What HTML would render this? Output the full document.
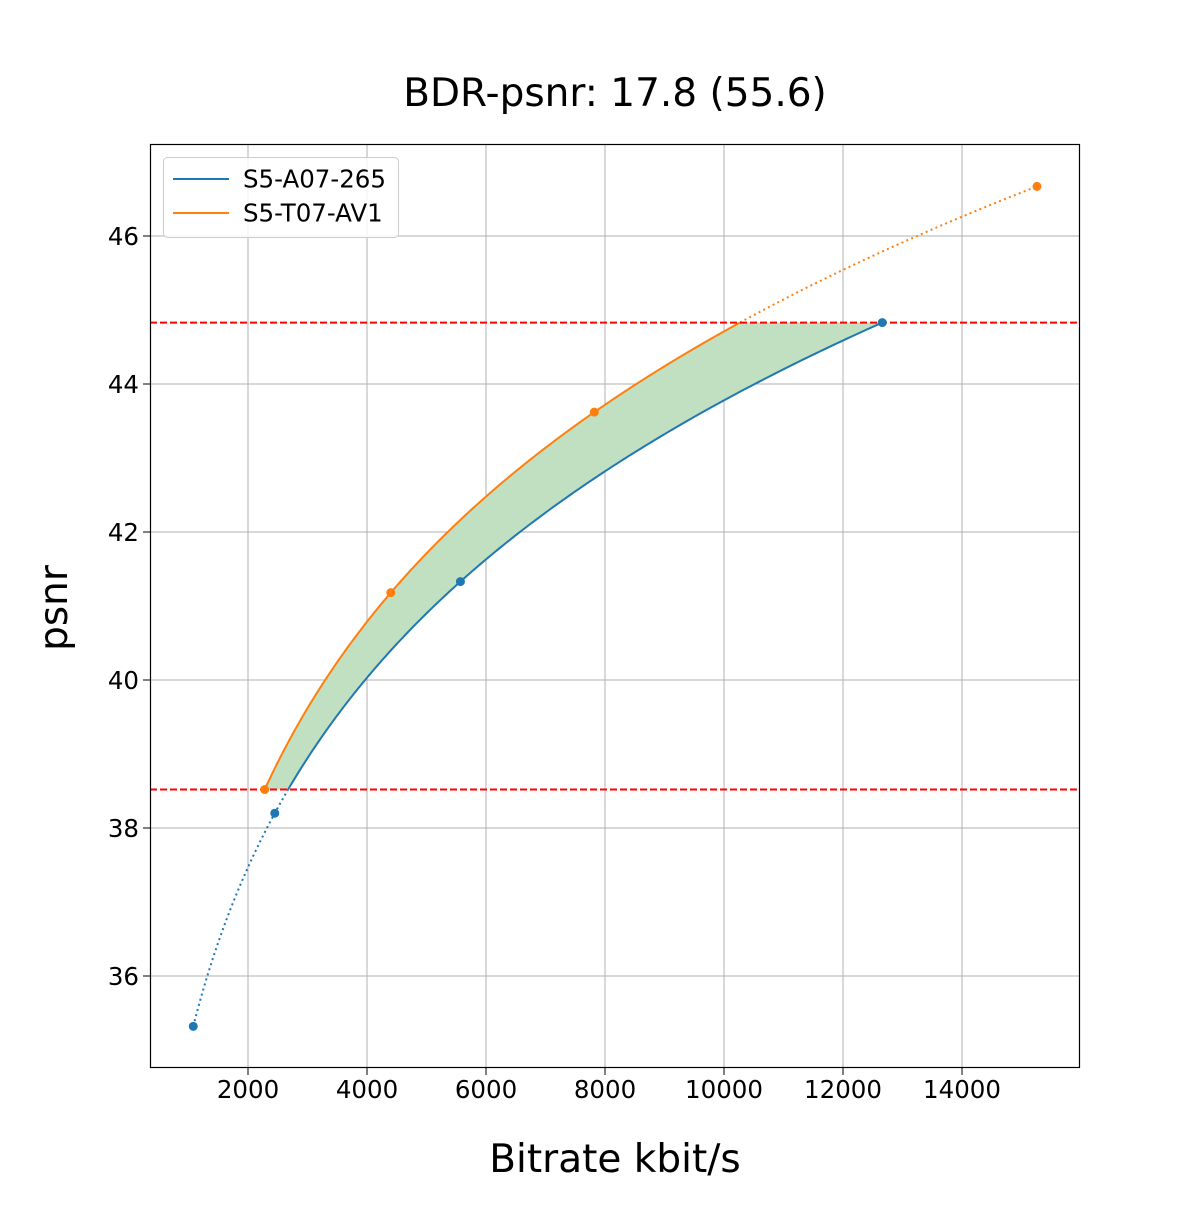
<!DOCTYPE html>
<html><head><meta charset="utf-8"><style>
html,body{margin:0;padding:0;background:#fff;}
svg text{font-family:"DejaVu Sans","Liberation Sans",sans-serif;}
</style></head><body>
<svg id="s" width="1200" height="1200" xmlns="http://www.w3.org/2000/svg">
<rect width="1200" height="1200" fill="#fff"/>
<g id="grid" stroke="#b0b0b0" stroke-width="1"></g>
<g id="plot"></g>
<rect x="150.5" y="144.5" width="929" height="923" fill="none" stroke="#000" stroke-width="1.2"/>
<g id="ticks" font-size="24.5" fill="#000"></g>
<text x="615" y="106" font-size="39" text-anchor="middle">BDR-psnr: 17.8 (55.6)</text>
<text x="615" y="1172" font-size="39" text-anchor="middle">Bitrate kbit/s</text>
<text transform="translate(67,608) rotate(-90)" font-size="39" text-anchor="middle">psnr</text>
<g>
<rect x="163.5" y="157.5" width="235" height="80" rx="4" fill="#fff" fill-opacity="0.85" stroke="#ccc"/>
<line x1="173" y1="179" x2="229" y2="179" stroke="#1f77b4" stroke-width="2"/>
<text x="243" y="187.5" font-size="24.5">S5-A07-265</text>
<line x1="173" y1="213" x2="229" y2="213" stroke="#ff7f0e" stroke-width="2"/>
<text x="243" y="221.5" font-size="24.5">S5-T07-AV1</text>
</g>
</svg>
<script>
const NS="http://www.w3.org/2000/svg";
const X=v=>248+(v-2000)*0.0595, Y=v=>680-(v-40)*74;
function el(p,t,a){const e=document.createElementNS(NS,t);for(const k in a)e.setAttribute(k,a[k]);document.getElementById(p).appendChild(e);return e;}
for(let v=2000;v<=14000;v+=2000){el('grid','line',{x1:X(v),x2:X(v),y1:144,y2:1068});el('ticks','line',{x1:X(v),x2:X(v),y1:1068,y2:1075,stroke:'#000'});const t=el('ticks','text',{x:X(v),y:1098,'text-anchor':'middle'});t.textContent=v;}
for(let v=36;v<=46;v+=2){el('grid','line',{x1:150,x2:1080,y1:Y(v),y2:Y(v)});el('ticks','line',{x1:143,x2:150,y1:Y(v),y2:Y(v),stroke:'#000'});const t=el('ticks','text',{x:139,y:Y(v)+9,'text-anchor':'end'});t.textContent=v;}
function lag(pts){return x=>{let s=0;for(let i=0;i<pts.length;i++){let p=pts[i][1];for(let j=0;j<pts.length;j++)if(j!=i)p*=(x-pts[j][0])/(pts[i][0]-pts[j][0]);s+=p;}return s;};}
const B=[[1080,35.32],[2450,38.2],[5570,41.33],[12660,44.83]];
const O=[[2280,38.52],[4400,41.18],[7820,43.62],[15260,46.67]];
const fb=lag(B.map(p=>[Math.log10(p[0]),p[1]])), fo=lag(O.map(p=>[Math.log10(p[0]),p[1]]));
function solve(f,y,a,b){for(let i=0;i<60;i++){const m=(a+b)/2;if(f(m)<y)a=m;else b=m;}return (a+b)/2;}
const lo=38.52,hi=44.83;
function pts(f,a,b){let r=[];for(let i=0;i<=200;i++){const l=a+(b-a)*i/200;r.push([X(10**l),Y(f(l))]);}return r;}
const LB=B.map(p=>Math.log10(p[0])),LO=O.map(p=>Math.log10(p[0]));
const b1=solve(fb,lo,LB[0],LB[3]), o2=solve(fo,hi,LO[0],LO[3]);
const pb=pts(fb,b1,LB[3]), po=pts(fo,LO[0],o2);
const poly=po.concat(pb.slice().reverse());
el('plot','polygon',{points:poly.map(p=>p.join(',')).join(' '),fill:'#c1e0c1'});
const S=a=>a.map(p=>p.join(',')).join(' ');
el('plot','polyline',{points:S(pts(fb,LB[0],b1)),fill:'none',stroke:'#1f77b4','stroke-width':2,'stroke-dasharray':'2,3.3'});
el('plot','polyline',{points:S(pts(fo,o2,LO[3])),fill:'none',stroke:'#ff7f0e','stroke-width':2,'stroke-dasharray':'2,3.3'});
el('plot','polyline',{points:S(pb),fill:'none',stroke:'#1f77b4','stroke-width':2});
el('plot','polyline',{points:S(po),fill:'none',stroke:'#ff7f0e','stroke-width':2});
[lo,hi].forEach(v=>el('plot','line',{x1:150,x2:1080,y1:Y(v),y2:Y(v),stroke:'#ff0000','stroke-width':2,'stroke-dasharray':'7,3'}));
B.forEach(p=>el('plot','circle',{cx:X(p[0]),cy:Y(p[1]),r:4.5,fill:'#1f77b4'}));
O.forEach(p=>el('plot','circle',{cx:X(p[0]),cy:Y(p[1]),r:4.5,fill:'#ff7f0e'}));
</script>
</body></html>
